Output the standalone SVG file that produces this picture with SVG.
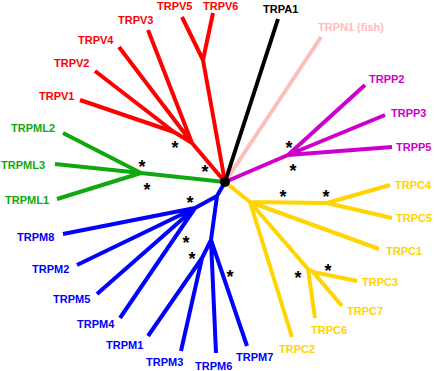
<svg xmlns="http://www.w3.org/2000/svg" width="435" height="371" viewBox="0 0 435 371">
<style>
.b{fill:none;stroke-width:4;stroke-linejoin:round;stroke-linecap:butt}
.r{stroke:#ff0000}.g{stroke:#10a810}.k{stroke:#000}.p{stroke:#ffbcbc}.m{stroke:#cc00cc}.u{stroke:#0000ff}.y{stroke:#ffd400}
text{font-family:"Liberation Sans",Arial,sans-serif;font-weight:bold;font-size:11px}
.tr{fill:#ff0000}.tg{fill:#10a810}.tk{fill:#000}.tp{fill:#ffbcbc}.tm{fill:#cc00cc}.tu{fill:#0000ff}.ty{fill:#ffd400}
.s{font-size:18px;fill:#000;text-anchor:middle}
</style>
<rect width="435" height="371" fill="#fff"/>
<g id="connectors">
<path class="b r" d="M225,182 L192,143 M192,143 L174,132 M174,132 L80,100 M174,132 L95,71 M192,143 L119,47 M192,143 L148,30 M225,182 L203,60 L182,17 M203,60 L213,13"/>
<path class="b g" d="M225,182 L141,173 M141,173 L63,133 M141,173 L55,164 M141,173 L57,199"/>
<path class="b p" d="M225,182 L321,37"/>
<path class="b k" d="M225,182 L278,19"/>
<path class="b m" d="M225,182 L288,155 M288,155 L365,85 M288,155 L385,115 M288,155 L392,147"/>
<path class="b u" d="M225,182 L217,196 L195,208 M195,208 L63,234 M195,208 L77,265 M195,208 L97,294 M195,208 L120,318 M217,196 L211,240 L202,258 M202,258 L148,336 M202,258 L181,351 M211,240 L216,353 M211,240 L247,346"/>
<path class="b y" d="M225,182 L250,202 L327,203 M327,203 L390,185 M327,203 L392,218 M250,202 L379,249 M250,202 L292,337 M250,202 L308,269 M308,269 L315,318 M308,269 L313,272 L357,281 M313,272 L342,306"/>
</g>
<g id="root"><circle cx="225" cy="182" r="5" fill="#000"/></g>
<g id="support">
<text class="s" x="175" y="154">*</text>
<text class="s" x="205" y="178">*</text>
<text class="s" x="142" y="173">*</text>
<text class="s" x="147" y="196">*</text>
<text class="s" x="289" y="154">*</text>
<text class="s" x="293" y="177">*</text>
<text class="s" x="190" y="209">*</text>
<text class="s" x="186" y="249">*</text>
<text class="s" x="192" y="265">*</text>
<text class="s" x="230" y="283">*</text>
<text class="s" x="283" y="203">*</text>
<text class="s" x="326" y="203">*</text>
<text class="s" x="298" y="284">*</text>
<text class="s" x="328" y="277">*</text>
</g>
<g id="TRPV5"><text class="tr" x="157" y="10">TRPV5</text></g>
<g id="TRPV6"><text class="tr" x="203" y="10">TRPV6</text></g>
<g id="TRPV3"><text class="tr" x="118" y="24">TRPV3</text></g>
<g id="TRPV4"><text class="tr" x="78" y="44">TRPV4</text></g>
<g id="TRPV2"><text class="tr" x="54" y="67">TRPV2</text></g>
<g id="TRPV1"><text class="tr" x="39" y="100">TRPV1</text></g>
<g id="TRPML2"><text class="tg" x="11" y="132">TRPML2</text></g>
<g id="TRPML3"><text class="tg" x="1" y="169">TRPML3</text></g>
<g id="TRPML1"><text class="tg" x="5" y="204">TRPML1</text></g>
<g id="TRPA1"><text class="tk" x="263" y="13">TRPA1</text></g>
<g id="TRPN1"><text class="tp" x="318" y="31">TRPN1 (fish)</text></g>
<g id="TRPP2"><text class="tm" x="369" y="83">TRPP2</text></g>
<g id="TRPP3"><text class="tm" x="391" y="117">TRPP3</text></g>
<g id="TRPP5"><text class="tm" x="396" y="151">TRPP5</text></g>
<g id="TRPC4"><text class="ty" x="395" y="189">TRPC4</text></g>
<g id="TRPC5"><text class="ty" x="396" y="222">TRPC5</text></g>
<g id="TRPC1"><text class="ty" x="386" y="255">TRPC1</text></g>
<g id="TRPC3"><text class="ty" x="362" y="286">TRPC3</text></g>
<g id="TRPC7"><text class="ty" x="347" y="315">TRPC7</text></g>
<g id="TRPC6"><text class="ty" x="311" y="334">TRPC6</text></g>
<g id="TRPC2"><text class="ty" x="279" y="353">TRPC2</text></g>
<g id="TRPM8"><text class="tu" x="17" y="241">TRPM8</text></g>
<g id="TRPM2"><text class="tu" x="32" y="273">TRPM2</text></g>
<g id="TRPM5"><text class="tu" x="53" y="303">TRPM5</text></g>
<g id="TRPM4"><text class="tu" x="77" y="328">TRPM4</text></g>
<g id="TRPM1"><text class="tu" x="106" y="349">TRPM1</text></g>
<g id="TRPM3"><text class="tu" x="146" y="366">TRPM3</text></g>
<g id="TRPM6"><text class="tu" x="195" y="370">TRPM6</text></g>
<g id="TRPM7"><text class="tu" x="236" y="361">TRPM7</text></g>
</svg>
